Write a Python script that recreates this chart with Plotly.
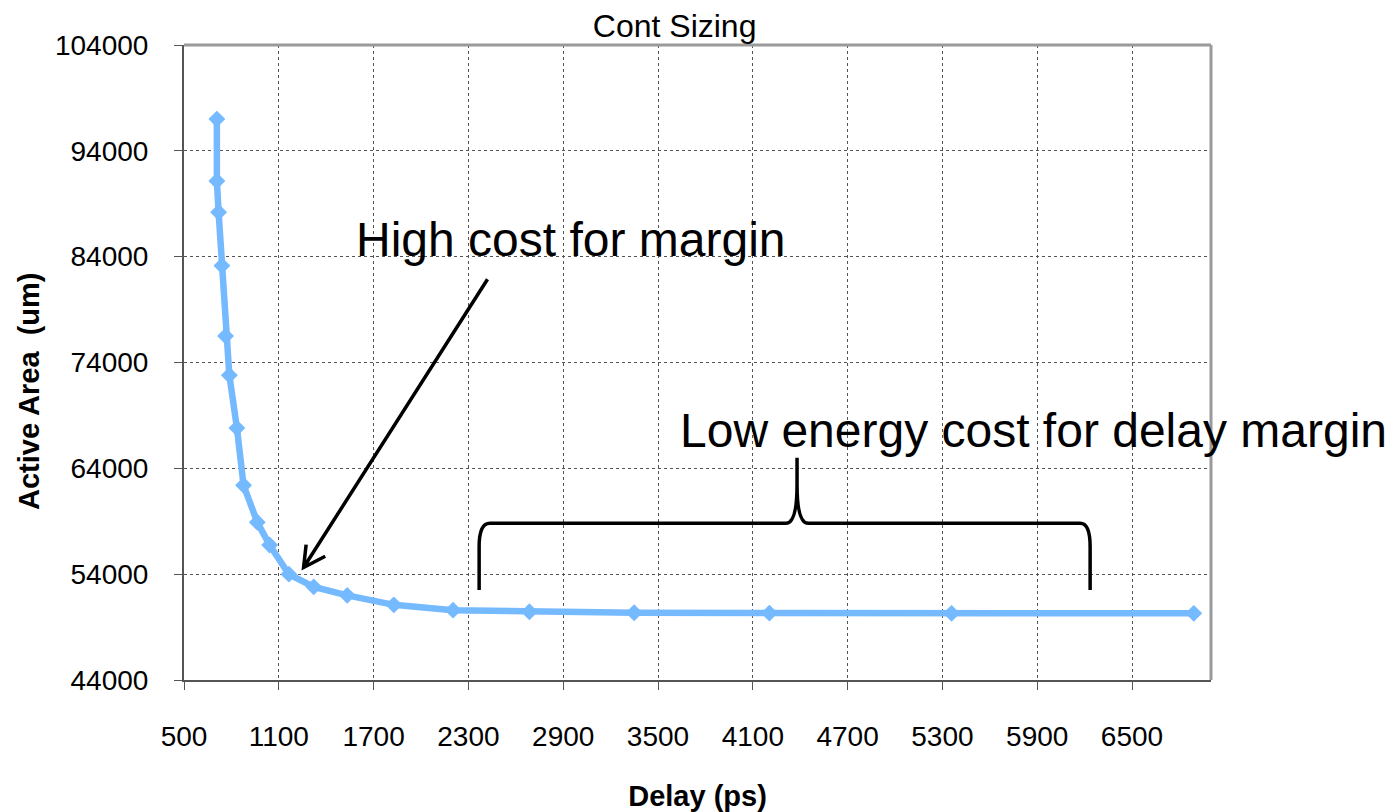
import plotly.graph_objects as go

# Delay (ps) vs active area (um) for the continuous sizing sweep
delay_ps = [708, 708, 719, 740, 763, 787, 835, 877, 964, 1042, 1164, 1321,
            1533, 1828, 2203, 2686, 3349, 4205, 5358, 6891]
active_area = [97000, 91150, 88200, 83150, 76500, 72800, 67800, 62400, 58900,
               56750, 54000, 52800, 52000, 51100, 50600, 50450, 50350, 50320,
               50300, 50300]

x_ticks = [500, 1100, 1700, 2300, 2900, 3500, 4100, 4700, 5300, 5900, 6500]
y_ticks = [44000, 54000, 64000, 74000, 84000, 94000, 104000]

NARROW = "Liberation Sans Narrow, Arial Narrow, Liberation Sans, sans-serif"
REGULAR = "Liberation Sans, Arial, sans-serif"

fig = go.Figure()
fig.add_trace(go.Scatter(
    x=delay_ps, y=active_area, mode="lines+markers",
    line=dict(color="#75B9FF", width=6.5),
    marker=dict(symbol="diamond", size=13, color="#75B9FF"),
    showlegend=False,
))

axis_common = dict(
    showgrid=True, gridcolor="#555555", griddash="dot", gridwidth=1,
    showline=True, linecolor="#555555", linewidth=2,
    ticks="outside", ticklen=8, tickcolor="#555555", tickwidth=1,
    tickfont=dict(family=NARROW, size=28, color="black"),
    zeroline=False, automargin=False,
)

fig.update_xaxes(range=[500, 7000], tickvals=x_ticks, tickformat="d",
                 ticklabelstandoff=22,
                 title=dict(text="<b>Delay (ps)</b>", standoff=36,
                            font=dict(family=NARROW, size=29, color="black")),
                 **axis_common)
fig.update_yaxes(range=[44000, 104000], tickvals=y_ticks, tickformat="d",
                 ticklabelstandoff=20, **axis_common)

# Vertical axis title, set a little below the middle of the axis
fig.add_annotation(text="<b>Active Area  (um)</b>", xref="paper", yref="paper",
                   x=-0.151, y=0.455, textangle=-90, showarrow=False,
                   xanchor="center", yanchor="middle",
                   font=dict(family=NARROW, size=29, color="black"))

# Grey frame on the top and right edges of the plot area
fig.add_shape(type="line", xref="paper", yref="paper", x0=0, x1=1, y0=1, y1=1,
              line=dict(color="#9a9a9a", width=3))
fig.add_shape(type="line", xref="paper", yref="paper", x0=1, x1=1, y0=0, y1=1,
              line=dict(color="#9a9a9a", width=3))

# Curly brace spanning the flat part of the curve
brace = ("M 2368,52505 L 2368,56600 Q 2368,58808 2436,58808 "
         "L 4310,58808 Q 4380,58808 4380,62500 L 4380,65000 "
         "L 4380,62500 Q 4380,58808 4450,58808 "
         "L 6172,58808 Q 6235,58808 6235,56600 L 6235,52505")
fig.add_shape(type="path", path=brace, xref="x", yref="y",
              line=dict(color="black", width=3.5))

# Arrow from the label to the knee of the curve, with an open V head
arrow = ("M 2421,81866 L 1257,54631 "
         "M 1394,55699 L 1257,54631 L 1273,56786")
fig.add_shape(type="path", path=arrow, xref="x", yref="y",
              line=dict(color="black", width=3.5))

fig.add_annotation(x=1575, y=85650, xref="x", yref="y", text="High cost for margin",
                   showarrow=False, xanchor="left", yanchor="middle",
                   font=dict(family=REGULAR, size=48, color="black"))
fig.add_annotation(x=3625, y=67600, xref="x", yref="y",
                   text="Low energy cost for delay margin",
                   showarrow=False, xanchor="left", yanchor="middle",
                   font=dict(family=REGULAR, size=48, color="black"))

fig.update_layout(
    width=1391, height=812,
    margin=dict(l=184, r=180, t=45, b=132),
    paper_bgcolor="white", plot_bgcolor="white",
    title=dict(text="Cont Sizing", x=0.485, xanchor="center", y=0.968, yanchor="middle",
               font=dict(family=NARROW, size=32, color="black")),
)

fig.write_html("out.html")
